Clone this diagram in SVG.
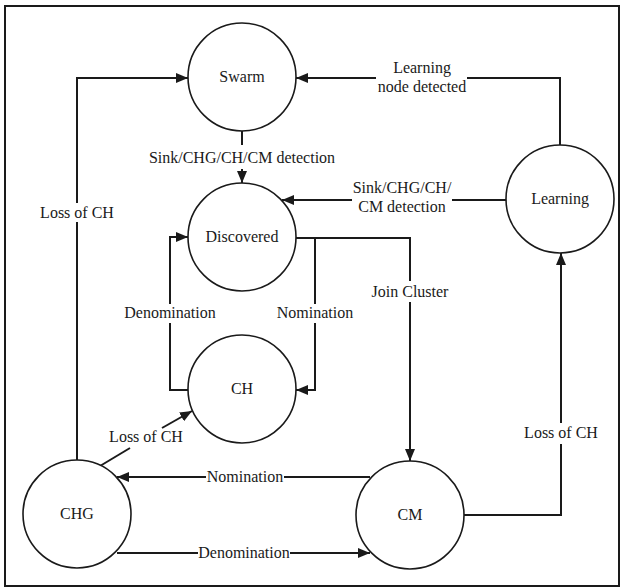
<svg xmlns="http://www.w3.org/2000/svg" width="622" height="588" viewBox="0 0 622 588" font-family="'Liberation Serif', 'DejaVu Serif', 'Noto Serif', serif">
<style>
text{font-size:16px;fill:#1a1a1a;text-anchor:middle}
.node circle{fill:#fff;stroke:#1a1a1a;stroke-width:1.6}
.conn path{fill:none;stroke:#1a1a1a;stroke-width:2}
</style>
<defs>
<marker id="ah" viewBox="0 0 12 10" refX="12" refY="5" markerWidth="12" markerHeight="10" markerUnits="userSpaceOnUse" orient="auto">
<path d="M0,0 L12,5 L0,10 z" fill="#1a1a1a"/>
</marker>
</defs>
<rect x="5" y="6" width="614" height="580" fill="#fff" stroke="#1a1a1a" stroke-width="2"/>
<g id="connectors" class="conn">
<path d="M560,145 V78 H467"/>
<path d="M376,78 H296" marker-end="url(#ah)"/>
<path d="M242,131 V145"/>
<path d="M242,169 V183" marker-end="url(#ah)"/>
<path d="M507,200 H452"/>
<path d="M352,200 H282" marker-end="url(#ah)"/>
<path d="M296,238 H410 V281"/>
<path d="M410,302 V461" marker-end="url(#ah)"/>
<path d="M315,238 V304"/>
<path d="M315,323 V390 H296" marker-end="url(#ah)"/>
<path d="M188,390 H170 V323"/>
<path d="M170,304 V237 H188" marker-end="url(#ah)"/>
<path d="M77,460 V222"/>
<path d="M77,203 V78 H188" marker-end="url(#ah)"/>
<path d="M100,466 L130,448"/>
<path d="M162,428 L192,411" marker-end="url(#ah)"/>
<path d="M370,477 H284"/>
<path d="M206,477 H117" marker-end="url(#ah)"/>
<path d="M117,553 H198"/>
<path d="M290,553 H370" marker-end="url(#ah)"/>
<path d="M464,515 H561 V444"/>
<path d="M561,423 V253" marker-end="url(#ah)"/>
<text x="422" y="73">Learning</text>
<text x="422" y="92">node detected</text>
<text x="242" y="163">Sink/CHG/CH/CM detection</text>
<text x="402" y="193">Sink/CHG/CH/</text>
<text x="402" y="212">CM detection</text>
<text x="410" y="297">Join Cluster</text>
<text x="315" y="318">Nomination</text>
<text x="170" y="318">Denomination</text>
<text x="77" y="218">Loss of CH</text>
<text x="146" y="442">Loss of CH</text>
<text x="245" y="482">Nomination</text>
<text x="244" y="558">Denomination</text>
<text x="561" y="438">Loss of CH</text>
</g>
<g id="swarm" class="node"><circle cx="242" cy="77" r="54"/><text x="242" y="82">Swarm</text></g>
<g id="discovered" class="node"><circle cx="242" cy="237" r="54"/><text x="242" y="242">Discovered</text></g>
<g id="ch" class="node"><circle cx="242" cy="389" r="54"/><text x="242" y="394">CH</text></g>
<g id="chg" class="node"><circle cx="77" cy="514" r="54"/><text x="77" y="519">CHG</text></g>
<g id="cm" class="node"><circle cx="410" cy="515" r="54"/><text x="410" y="520">CM</text></g>
<g id="learning" class="node"><circle cx="560" cy="199" r="54"/><text x="560" y="204">Learning</text></g>
</svg>
